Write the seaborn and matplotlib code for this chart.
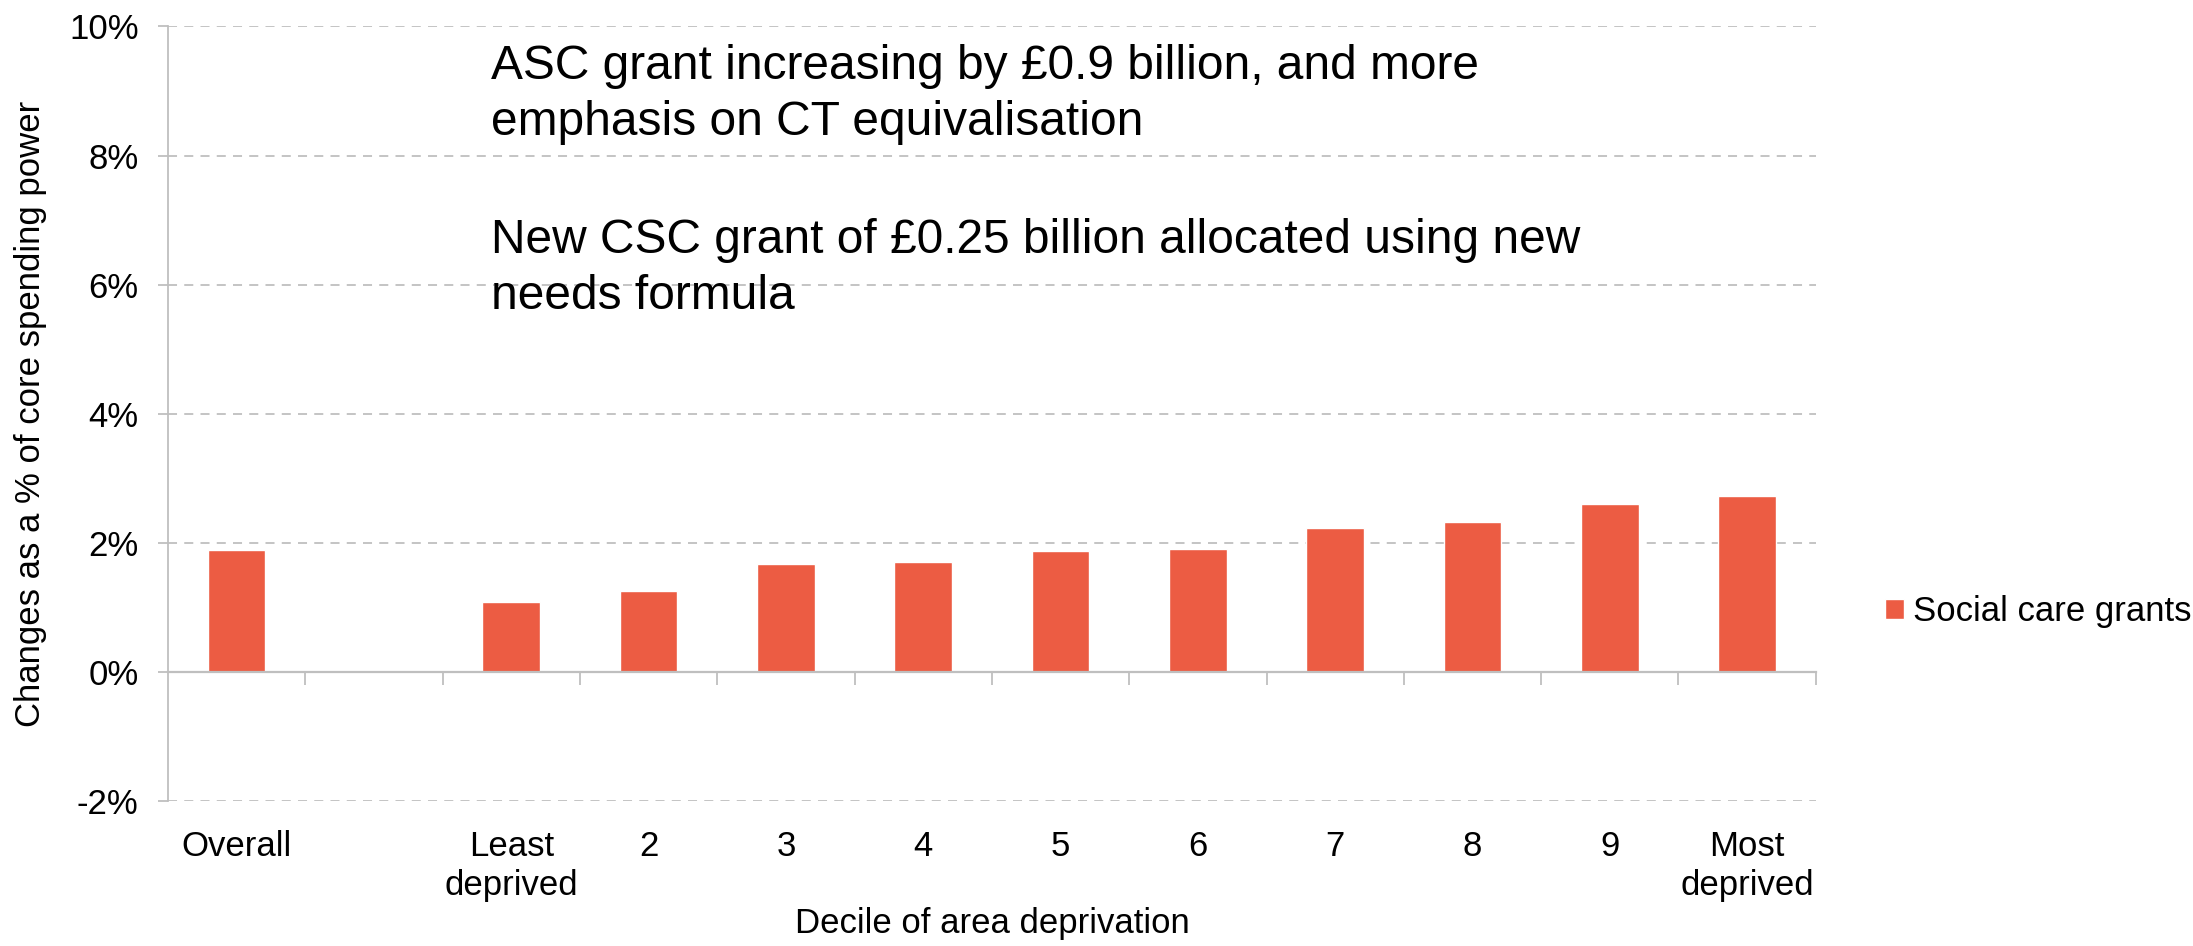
import numpy as np
import pandas as pd
import matplotlib
matplotlib.use("Agg")
import matplotlib.pyplot as plt
import seaborn as sns
from matplotlib.ticker import FixedLocator

categories = ["Overall", "", "Least\ndeprived", "2", "3", "4", "5", "6", "7", "8", "9", "Most\ndeprived"]
values = [1.89, np.nan, 1.08, 1.25, 1.68, 1.70, 1.87, 1.90, 2.24, 2.33, 2.60, 2.73]
series_name = "Social care grants"
y_ticks = [-2, 0, 2, 4, 6, 8, 10]
annotation_lines = [
    "ASC grant increasing by £0.9 billion, and more\nemphasis on CT equivalisation",
    "New CSC grant of £0.25 billion allocated using new\nneeds formula",
]

sns.set_theme(style="white")
plt.rcParams["font.family"] = ["Liberation Sans", "DejaVu Sans"]
plt.rcParams["text.color"] = "black"
plt.rcParams["axes.labelcolor"] = "black"

bar_color = "#EC5C43"
grid_color = "#BFBFBF"
fs = 25

df = pd.DataFrame({"category": categories, "value": values, "series": series_name})

fig = plt.figure(figsize=(21.93, 9.46), dpi=100)
ax = fig.add_axes([0.0766, 0.153, 0.7514, 0.819])

sns.barplot(data=df, x="category", y="value", hue="series", order=categories,
            palette=[bar_color], width=0.42, ax=ax, saturation=1, legend=True)

ax.set_ylim(-2, 10)
ax.set_xlim(-0.5, len(categories) - 0.5)
ax.set_yticks(y_ticks)
ax.set_yticklabels([f"{t}%" for t in y_ticks])

# dashed horizontal gridlines
for t in y_ticks:
    if t != 0:
        ax.axhline(t, color=grid_color, lw=1.3, ls=(0, (5, 4)), zorder=0)

# category axis drawn along zero
for s in ["top", "right"]:
    ax.spines[s].set_visible(False)
ax.spines["bottom"].set_position(("data", 0))
ax.spines["bottom"].set_color(grid_color)
ax.spines["bottom"].set_linewidth(1.6)
ax.spines["left"].set_color(grid_color)
ax.spines["left"].set_linewidth(1.3)

ax.xaxis.set_minor_locator(FixedLocator(np.arange(0.5, len(categories) - 0.5 + 1, 1.0)))
ax.tick_params(axis="x", which="minor", bottom=True, length=9, width=1.3, color=grid_color, direction="out")
ax.tick_params(axis="x", which="major", length=0, pad=114, labelsize=fs, labelcolor="black")
ax.tick_params(axis="y", which="major", left=True, length=7.2, width=1.3, color=grid_color,
               labelsize=fs, pad=14, labelcolor="black")
for lab in ax.get_xticklabels():
    lab.set_linespacing(1.23)
    lab.set_verticalalignment("top")

ax.set_xlabel("Decile of area deprivation", fontsize=fs)
ax.xaxis.set_label_coords(0.5, -0.136)
ax.set_ylabel("Changes as a % of core spending power", fontsize=fs, labelpad=16)

ax.text(0.196, 0.9775, annotation_lines[0], transform=ax.transAxes, fontsize=34.5,
        va="top", ha="left", linespacing=1.31)
ax.text(0.196, 0.753, annotation_lines[1], transform=ax.transAxes, fontsize=34.5,
        va="top", ha="left", linespacing=1.31)

leg = ax.legend(loc="center left", bbox_to_anchor=(1.0233, 0.245), frameon=False,
                fontsize=fs, handlelength=0.52, handleheight=0.52, handletextpad=0.26)

fig.savefig("out.png", dpi=100, facecolor="white")
